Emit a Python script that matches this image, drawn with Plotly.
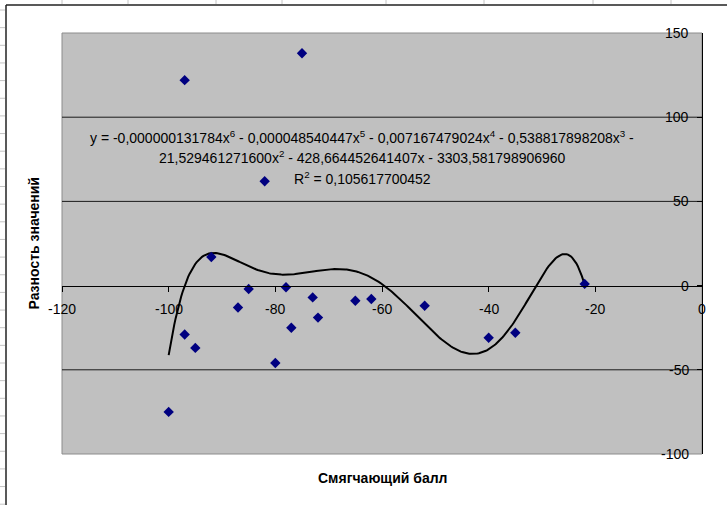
import numpy as np
import plotly.graph_objects as go

# Observed points: smoothing score vs. difference of values
score = [-97, -75, -82, -92, -97, -95, -100, -87, -85, -78, -80, -77, -73, -72,
         -65, -62, -52, -40, -35, -22]
diff = [122, 138, 62, 17, -29, -37, -75, -13, -2, -1, -46, -25, -7, -19,
        -9, -8, -12, -31, -28, 1]

# 6th-order polynomial trendline, highest power first (all terms negative)
coef_text = ["0,000000131784", "0,000048540447", "0,007167479024", "0,538817898208",
             "21,529461271600", "428,664452641407", "3303,581798906960"]
r2_text = "0,105617700452"
coefs = [-float(s.replace(",", ".")) for s in coef_text]

x_ticks = [-120, -100, -80, -60, -40, -20, 0]
y_ticks = [-100, -50, 0, 50, 100, 150]

W, H = 727, 505
ML, MR, MT, MB = 62, 25, 33, 51
PW, PH = W - ML - MR, H - MT - MB
FONT = "Arial, Liberation Sans, sans-serif"
FS = 14


def px_x(px):
    return (px - ML) / PW


def px_y(py):
    return (H - MB - py) / PH


xs = np.linspace(min(score), max(score), 300)
ys = np.polyval(coefs, xs)

fig = go.Figure()
fig.add_trace(go.Scatter(x=xs, y=ys, mode="lines",
                         line=dict(color="black", width=2), hoverinfo="skip"))
fig.add_trace(go.Scatter(x=score, y=diff, mode="markers",
                         marker=dict(symbol="diamond", size=8, color="#000080",
                                     line=dict(width=0))))

shapes = []
# plot area frame
shapes.append(dict(type="rect", xref="paper", yref="paper", x0=0, x1=1, y0=0, y1=1,
                   line=dict(color="#8c8c8c", width=1), fillcolor="rgba(0,0,0,0)",
                   layer="below"))
# horizontal gridlines at inner ticks
for v in y_ticks:
    if y_ticks[0] < v < y_ticks[-1] and v != 0:
        shapes.append(dict(type="line", xref="paper", yref="y", x0=0, x1=1, y0=v, y1=v,
                           line=dict(color="#1a1a1a", width=1), layer="below"))
# chart-area border (top and left)
shapes.append(dict(type="line", xref="paper", yref="paper",
                   x0=px_x(6), x1=px_x(W), y0=px_y(5), y1=px_y(5),
                   line=dict(color="#222222", width=1.5)))
shapes.append(dict(type="line", xref="paper", yref="paper",
                   x0=px_x(6), x1=px_x(6), y0=px_y(5), y1=px_y(H),
                   line=dict(color="#222222", width=1.5)))
# worksheet cell borders peeking out around the chart
for cx in [62, 128, 216, 282, 386, 484, 593, 671]:
    shapes.append(dict(type="line", xref="paper", yref="paper",
                       x0=px_x(cx), x1=px_x(cx), y0=px_y(0), y1=px_y(4),
                       line=dict(color="#c4c4c4", width=1)))
ry = 10.0
while ry < H:
    shapes.append(dict(type="line", xref="paper", yref="paper",
                       x0=px_x(0), x1=px_x(5), y0=px_y(ry), y1=px_y(ry),
                       line=dict(color="#c4c4c4", width=1)))
    ry += 17.65

line1 = ("y = -" + coef_text[0] + "x<sup>6</sup> - " + coef_text[1] + "x<sup>5</sup> - "
         + coef_text[2] + "x<sup>4</sup> - " + coef_text[3] + "x<sup>3</sup> -")
line2 = coef_text[4] + "x<sup>2</sup> - " + coef_text[5] + "x - " + coef_text[6]
line3 = "R<sup>2</sup> = " + r2_text

tfont = dict(family=FONT, size=FS, color="black")
annotations = []
for txt, py in [(line1, 137), (line2, 157), (line3, 178)]:
    annotations.append(dict(text=txt, xref="paper", yref="paper", x=px_x(362), y=px_y(py),
                            xanchor="center", yanchor="middle", showarrow=False,
                            font=tfont))
annotations.append(dict(text="<b>Разность значений</b>", xref="paper", yref="paper",
                        x=px_x(33), y=0.5, textangle=-90, xanchor="center",
                        yanchor="middle", showarrow=False, font=tfont))
annotations.append(dict(text="<b>Смягчающий балл</b>", xref="paper", yref="paper",
                        x=0.5, y=px_y(478), xanchor="center", yanchor="middle",
                        showarrow=False, font=tfont))
# tick labels: x below the zero line, y inside next to the right-hand axis
for v in x_ticks:
    annotations.append(dict(text=str(v), xref="x", yref="y", x=v, y=0,
                            xanchor="center", yanchor="middle", yshift=-23,
                            showarrow=False, font=tfont))
for v in y_ticks:
    annotations.append(dict(text=str(v), xref="paper", yref="y", x=1, y=v,
                            xanchor="right", yanchor="middle", xshift=-11,
                            showarrow=False, font=tfont))

ymin, ymax = y_ticks[0], y_ticks[-1]

fig.update_layout(
    width=W, height=H,
    margin=dict(l=ML, r=MR, t=MT, b=MB, pad=0),
    paper_bgcolor="white", plot_bgcolor="#c0c0c0",
    showlegend=False, hovermode=False,
    font=dict(family=FONT, size=FS, color="black"),
    shapes=shapes, annotations=annotations,
    xaxis=dict(range=[x_ticks[0], x_ticks[-1]], tickvals=x_ticks,
               anchor="free", position=(0 - ymin) / (ymax - ymin),
               showline=True, linecolor="black", linewidth=1,
               ticks="outside", ticklen=5, tickcolor="black",
               showticklabels=False, showgrid=False, zeroline=False),
    yaxis=dict(range=[ymin, ymax], tickvals=y_ticks,
               side="right", showline=True, linecolor="black", linewidth=1,
               ticks="inside", ticklen=5, tickcolor="black",
               showticklabels=False, showgrid=False, zeroline=False),
)

fig.write_html("out.html")
